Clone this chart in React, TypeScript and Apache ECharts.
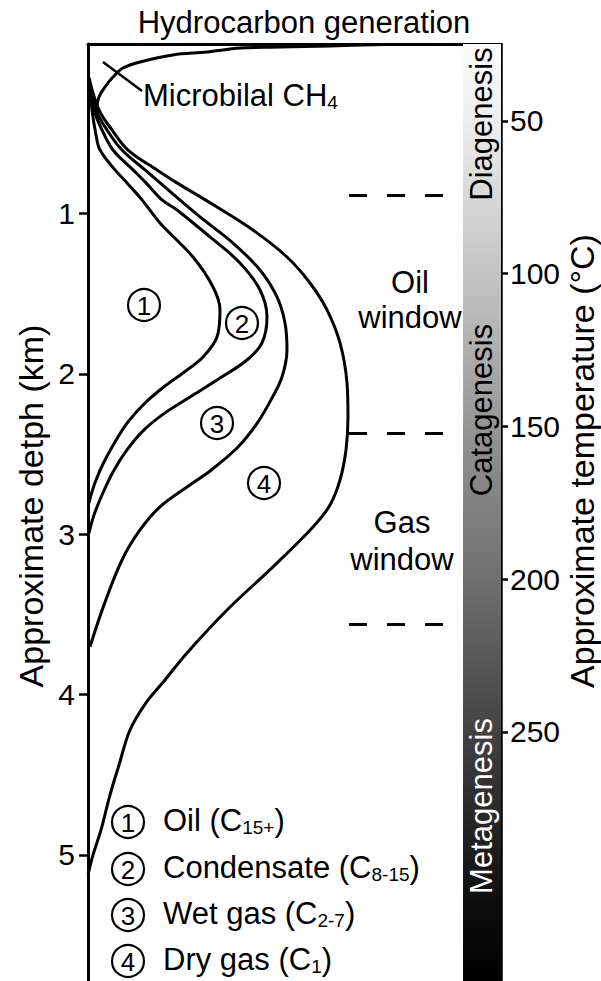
import React, { useEffect, useRef } from "react";
import * as echarts from "echarts";

// ---- axes ranges (depth in km, temperature in °C) ----
const DEPTH_MIN = -0.056;
const DEPTH_MAX = 5.786;
const TEMP_MIN = 24.8;
const TEMP_MAX = 331.6;
const depthTicks = [1, 2, 3, 4, 5];
const tempTicks = [50, 100, 150, 200, 250];

// ---- curves: [relative generation (0-100), depth km] ----
const oilCurve = [
  [0.24, 0.156], [0.97, 0.355], [1.94, 0.511], [2.91, 0.605], [6.54, 0.729], [9.44, 0.81],
  [13.08, 0.916], [17.43, 1.06], [25.42, 1.272], [30.27, 1.459], [31.96, 1.602], [31.23, 1.771],
  [27.85, 1.895], [23.0, 1.995], [18.64, 2.076], [13.8, 2.182], [9.69, 2.3], [6.54, 2.425],
  [3.87, 2.55], [1.94, 2.662], [0.73, 2.756], [0.24, 2.805],
];
const condensateCurve = [
  [0.24, 0.156], [1.45, 0.355], [3.39, 0.48], [6.05, 0.605], [10.9, 0.729], [14.04, 0.81],
  [17.92, 0.916], [21.55, 0.979], [29.54, 1.147], [36.8, 1.309], [41.65, 1.478], [43.34, 1.646],
  [42.13, 1.808], [38.5, 1.914], [31.23, 2.039], [24.7, 2.145], [18.64, 2.244], [13.56, 2.35],
  [9.44, 2.475], [6.05, 2.612], [3.39, 2.756], [1.45, 2.88], [0.24, 2.993],
];
const wetGasCurve = [
  [0.24, 0.156], [1.94, 0.355], [4.6, 0.48], [8.23, 0.605], [13.8, 0.729], [17.43, 0.81],
  [27.12, 1.022], [35.11, 1.185], [41.65, 1.353], [45.76, 1.521], [47.7, 1.683], [48.18, 1.852],
  [46.97, 2.02], [44.31, 2.163], [40.68, 2.319], [36.08, 2.463], [29.54, 2.606], [23.97, 2.706],
  [17.43, 2.83], [12.59, 2.974], [8.23, 3.161], [3.87, 3.441], [0.48, 3.703],
];
const dryGasCurve = [
  [0.24, 0.156], [2.66, 0.355], [5.81, 0.48], [9.69, 0.605], [16.71, 0.729], [21.55, 0.81],
  [31.23, 0.96], [39.95, 1.104], [48.18, 1.272], [53.75, 1.434], [57.87, 1.602], [61.02, 1.808],
  [62.71, 2.057], [62.95, 2.269], [62.47, 2.475], [61.02, 2.662], [58.6, 2.818], [54.48, 2.955],
  [44.79, 3.204], [33.66, 3.473], [23.97, 3.741], [18.64, 3.909], [14.04, 4.052], [10.17, 4.221],
  [7.51, 4.439], [5.33, 4.626], [3.15, 4.844], [1.21, 5.0], [0.0, 5.125],
];
const microbialCurve = [
  [71.91, -0.053], [58.6, -0.044], [46.49, -0.037], [36.8, -0.031], [28.81, -0.006], [20.58, 0.012],
  [12.59, 0.056], [8.47, 0.094], [6.05, 0.15], [4.12, 0.212], [2.66, 0.274], [2.18, 0.337], [2.42, 0.399],
];
const microbialPointer = [[3.63, 0.056], [13.08, 0.237]];

// zone boundaries (depth km) drawn as dashed lines
const zoneBoundaries = [0.885, 2.37, 3.56];

const legendItems = [
  { num: "1", label: "Oil (C", sub: "15+" },
  { num: "2", label: "Condensate (C", sub: "8-15" },
  { num: "3", label: "Wet gas (C", sub: "2-7" },
  { num: "4", label: "Dry gas (C", sub: "1" },
];
const stageNames = ["Diagenesis", "Catagenesis", "Metagenesis"];

// ---- styling / layout constants ----
const FONT = '"Liberation Sans", Arial, Helvetica, sans-serif';
const DASH_X0 = 63.2;
const DASH_X1 = 86.2;
const BAR_X0 = 90.8;
const regionMarks = [
  { num: "1", x: 144, y: 305 },
  { num: "2", x: 242, y: 323 },
  { num: "3", x: 217, y: 423 },
  { num: "4", x: 264, y: 483 },
];
const legendRows = [822, 869, 915, 961];
const stageLabelPos = [
  { y: 124, color: "#000" },
  { y: 410, color: "#000" },
  { y: 806, color: "#fff" },
];

function circled(num: string, x: number, y: number) {
  return [
    { type: "circle", shape: { cx: x, cy: y, r: 16 }, style: { fill: "none", stroke: "#000", lineWidth: 2.2 }, z: 10 },
    {
      type: "text", x, y: y + 1, z: 10,
      style: { text: num, fontSize: 26, fontFamily: FONT, fill: "#000", align: "center", verticalAlign: "middle" },
    },
  ];
}

const lineSeries = (name: string, data: number[][], extra: any = {}) => ({
  name, type: "line", data, showSymbol: false, smooth: 0.35, clip: false, silent: true,
  lineStyle: { color: "#000", width: 3 }, z: 5, ...extra,
});

export default function App() {
  const ref = useRef<HTMLDivElement>(null);
  useEffect(() => {
    const chart = echarts.init(ref.current!, null, { renderer: "svg" });
    const richMain = { fontSize: 31, fontFamily: FONT, color: "#000", lineHeight: 34 };
    const richSub = { fontSize: 19, fontFamily: FONT, color: "#000", lineHeight: 16, verticalAlign: "bottom" };

    const graphics: any[] = [
      {
        type: "text", x: 304, y: 22,
        style: { text: "Hydrocarbon generation", fontSize: 31, fontFamily: FONT, fill: "#000", align: "center", verticalAlign: "middle" },
      },
      {
        type: "text", x: 31, y: 506, rotation: Math.PI / 2,
        style: { text: "Approximate detph (km)", fontSize: 34, fontFamily: FONT, fill: "#000", align: "center", verticalAlign: "middle" },
      },
      {
        type: "text", x: 582, y: 461, rotation: Math.PI / 2,
        style: { text: "Approximate temperature (°C)", fontSize: 34, fontFamily: FONT, fill: "#000", align: "center", verticalAlign: "middle" },
      },
      {
        type: "text", x: 143, y: 95,
        style: { text: "{a|Microbilal CH}{s|4}", rich: { a: richMain, s: richSub }, align: "left", verticalAlign: "middle" },
      },
      {
        type: "text", x: 410, y: 300,
        style: { text: "Oil\nwindow", fontSize: 31, lineHeight: 35, fontFamily: FONT, fill: "#000", align: "center", verticalAlign: "middle" },
      },
      {
        type: "text", x: 402, y: 541,
        style: { text: "Gas\nwindow", fontSize: 31, lineHeight: 37, fontFamily: FONT, fill: "#000", align: "center", verticalAlign: "middle" },
      },
    ];
    stageNames.forEach((s, i) => {
      graphics.push({
        type: "text", x: 481, y: stageLabelPos[i].y, rotation: Math.PI / 2, z: 10,
        style: { text: s, fontSize: 31, fontFamily: FONT, fill: stageLabelPos[i].color, align: "center", verticalAlign: "middle" },
      });
    });
    regionMarks.forEach((r) => graphics.push(...circled(r.num, r.x, r.y)));
    legendItems.forEach((it, i) => {
      graphics.push(...circled(it.num, 128, legendRows[i]));
      graphics.push({
        type: "text", x: 163, y: legendRows[i] - 2,
        style: { text: `{a|${it.label}}{s|${it.sub}}{a|)}`, rich: { a: richMain, s: richSub }, align: "left", verticalAlign: "middle" },
      });
    });

    const barGradient = new echarts.graphic.LinearGradient(0, 0, 0, 1, [
      { offset: 0, color: "#fcfcfc" },
      { offset: 0.08, color: "#eeeeee" },
      { offset: 0.17, color: "#d6d6d6" },
      { offset: 0.3, color: "#b6b6b6" },
      { offset: 0.42, color: "#929292" },
      { offset: 0.57, color: "#707070" },
      { offset: 0.72, color: "#464646" },
      { offset: 0.83, color: "#262626" },
      { offset: 0.92, color: "#0c0c0c" },
      { offset: 1, color: "#000000" },
    ]);

    chart.setOption({
      animation: false,
      backgroundColor: "#fff",
      grid: { left: 88, right: 100, top: 44, bottom: 0 },
      xAxis: {
        type: "value", min: 0, max: 100, position: "top",
        axisLine: { show: true, onZero: false, lineStyle: { color: "#000", width: 3 } },
        axisTick: { show: false }, axisLabel: { show: false }, splitLine: { show: false },
      },
      yAxis: [
        {
          type: "value", inverse: true, min: DEPTH_MIN, max: DEPTH_MAX, position: "left",
          axisLine: { show: true, onZero: false, lineStyle: { color: "#000", width: 3 } },
          axisTick: { show: true, inside: false, length: 9, customValues: depthTicks, lineStyle: { color: "#000", width: 2.5 } },
          axisLabel: { show: true, customValues: depthTicks, margin: 13, fontSize: 30, fontFamily: FONT, color: "#000" },
          splitLine: { show: false },
        },
        {
          type: "value", inverse: true, min: TEMP_MIN, max: TEMP_MAX, position: "right",
          axisLine: { show: true, onZero: false, lineStyle: { color: "#000", width: 2.5 } },
          axisTick: { show: true, inside: false, length: 7, customValues: tempTicks, lineStyle: { color: "#000", width: 2.5 } },
          axisLabel: { show: true, customValues: tempTicks, margin: 9, fontSize: 30, fontFamily: FONT, color: "#000" },
          splitLine: { show: false },
        },
      ],
      series: [
        lineSeries("Oil", oilCurve, {
          markArea: {
            silent: true, z: 1,
            itemStyle: { color: barGradient },
            label: { show: false },
            data: [[{ coord: [BAR_X0, DEPTH_MIN] }, { coord: [100, DEPTH_MAX] }]],
          },
          markLine: {
            silent: true, symbol: ["none", "none"], label: { show: false },
            lineStyle: { color: "#000", width: 3, type: [18, 20] },
            data: zoneBoundaries.map((d) => [{ coord: [DASH_X0, d] }, { coord: [DASH_X1, d] }]),
          },
        }),
        lineSeries("Condensate", condensateCurve),
        lineSeries("Wet gas", wetGasCurve),
        lineSeries("Dry gas", dryGasCurve),
        lineSeries("Microbial CH4", microbialCurve, {
          markLine: {
            silent: true, symbol: ["none", "none"], label: { show: false },
            lineStyle: { color: "#000", width: 2.5, type: "solid" },
            data: [[{ coord: microbialPointer[0] }, { coord: microbialPointer[1] }]],
          },
        }),
      ],
      graphic: graphics,
    });
    return () => chart.dispose();
  }, []);
  return <div ref={ref} style={{ position: "absolute", left: 0, top: 0, width: 601, height: 981, background: "#fff" }} />;
}
